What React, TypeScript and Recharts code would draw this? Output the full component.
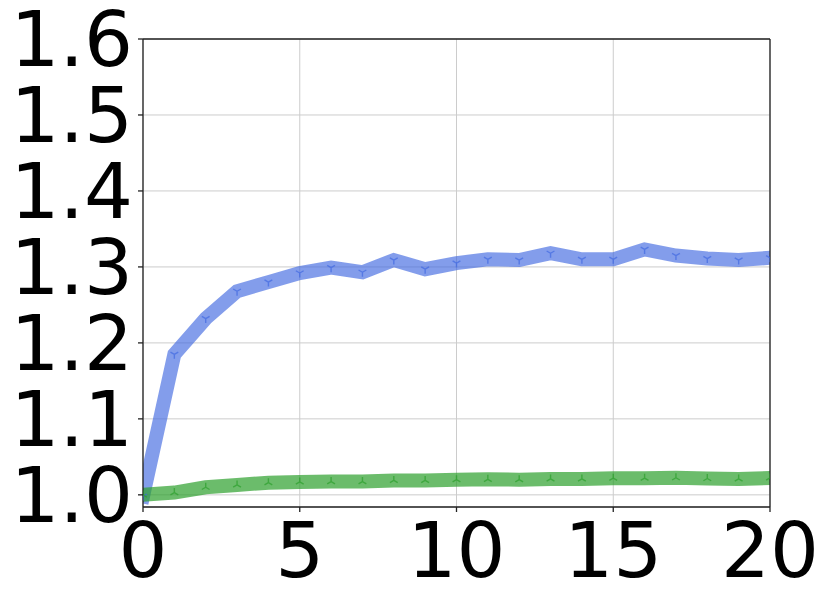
import React from 'react';
import { LineChart, Line, XAxis, YAxis, CartesianGrid, ReferenceLine } from 'recharts';

const xValues = [0, 1, 2, 3, 4, 5, 6, 7, 8, 9, 10, 11, 12, 13, 14, 15, 16, 17, 18, 19, 20];
const blueValues = [0.998, 1.185, 1.232, 1.268, 1.28, 1.292, 1.299, 1.293, 1.309, 1.297, 1.305, 1.31, 1.309, 1.318, 1.31, 1.31, 1.323, 1.315, 1.311, 1.309, 1.312];
const greenValues = [1.0, 1.003, 1.01, 1.013, 1.016, 1.017, 1.0175, 1.0175, 1.019, 1.019, 1.02, 1.0205, 1.02, 1.021, 1.021, 1.022, 1.022, 1.0225, 1.0215, 1.021, 1.0222];
const xTicks = [0, 5, 10, 15, 20];
const yTicks = [1.0, 1.1, 1.2, 1.3, 1.4, 1.5, 1.6];

const data = xValues.map((x, i) => ({ x, blue: blueValues[i], green: greenValues[i] }));

const FONT = { fill: '#000', fontSize: 77, fontFamily: 'DejaVu Sans' };
const AXIS = '#222';

const makeTri = (down: boolean, color: string) => (props: any) => {
  const { cx, cy, index } = props;
  if (cx == null || cy == null) return <g key={`m-${index}`} />;
  const r = 4.5;
  const s = down ? 1 : -1;
  const d = `M${cx},${cy} L${cx},${cy + s * r} M${cx},${cy} L${cx - 0.866 * r},${cy - s * 0.5 * r} M${cx},${cy} L${cx + 0.866 * r},${cy - s * 0.5 * r}`;
  return <path key={`m-${index}`} d={d} stroke={color} strokeWidth={1.4} strokeOpacity={0.7} fill="none" />;
};

export default function App() {
  return (
    <div style={{ position: 'absolute', left: 0, top: 0, width: 831, height: 603, background: '#fff' }}>
      <LineChart width={831} height={603} data={data} margin={{ top: 39, right: 61, bottom: 1, left: 0 }}>
        <CartesianGrid stroke="#cccccc" strokeWidth={1} />
        <XAxis
          type="number"
          dataKey="x"
          domain={[0, 20]}
          ticks={xTicks}
          interval={0}
          allowDataOverflow
          height={95}
          tickSize={5}
          tickMargin={10}
          tick={FONT}
          stroke={AXIS}
          strokeWidth={1.3}
          tickLine={{ stroke: AXIS, strokeWidth: 1.3 }}
        />
        <YAxis
          type="number"
          domain={[0.984, 1.6]}
          ticks={yTicks}
          interval={0}
          allowDataOverflow
          width={143}
          tickSize={5}
          tickMargin={5}
          tick={FONT}
          tickFormatter={(v: number) => v.toFixed(1)}
          stroke={AXIS}
          strokeWidth={1.3}
          tickLine={{ stroke: AXIS, strokeWidth: 1.3 }}
        />
        <Line
          type="linear"
          dataKey="blue"
          stroke="#4169e1"
          strokeOpacity={0.65}
          strokeWidth={14}
          strokeLinecap="square"
          strokeLinejoin="miter"
          dot={makeTri(true, '#4169e1')}
          activeDot={false}
          isAnimationActive={false}
        />
        <Line
          type="linear"
          dataKey="green"
          stroke="#2ca02c"
          strokeOpacity={0.7}
          strokeWidth={14}
          strokeLinecap="square"
          strokeLinejoin="miter"
          dot={makeTri(false, '#2ca02c')}
          activeDot={false}
          isAnimationActive={false}
        />
        <ReferenceLine y={1.6} stroke={AXIS} strokeWidth={1.3} ifOverflow="visible" />
        <ReferenceLine x={20} stroke={AXIS} strokeWidth={1.3} ifOverflow="visible" />
      </LineChart>
    </div>
  );
}
